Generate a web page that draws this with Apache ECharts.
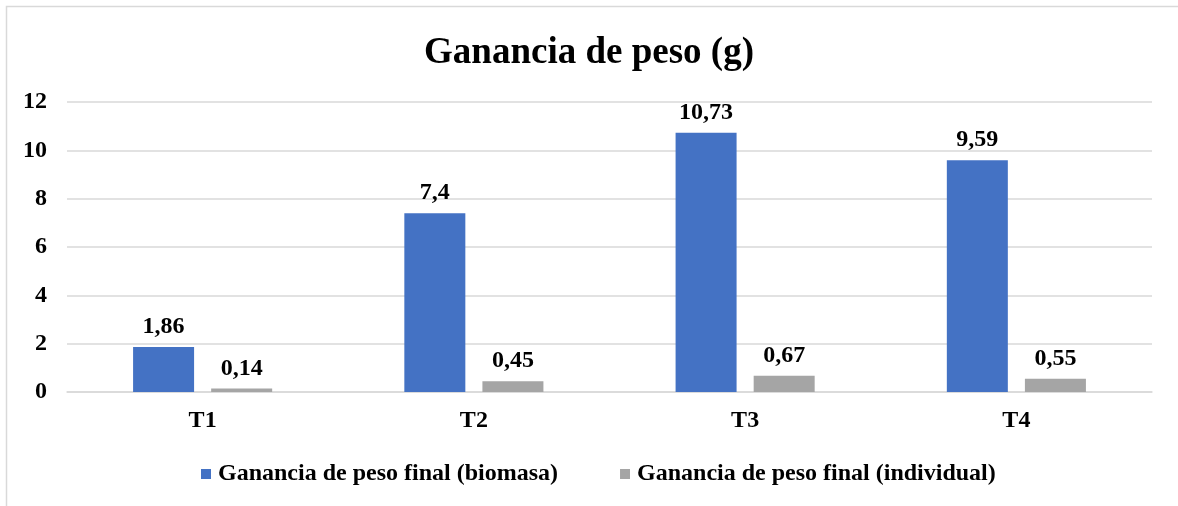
<!DOCTYPE html>
<html>
<head>
<meta charset="utf-8">
<script src="https://cdn.jsdelivr.net/npm/echarts@6/dist/echarts.min.js"></script>
<style>
  html, body { margin: 0; padding: 0; background: #fff; }
  #chart { width: 1178px; height: 506px; }
</style>
</head>
<body>
<div id="chart"></div>
<script>
// datos
const categorias = ['T1', 'T2', 'T3', 'T4'];
const biomasa = [1.86, 7.4, 10.73, 9.59];
const individual = [0.14, 0.45, 0.67, 0.55];
const nombres = ['Ganancia de peso final (biomasa)', 'Ganancia de peso final (individual)'];

const fuente = '"Liberation Serif", "Times New Roman", serif';
const coma = p => String(p.value).replace('.', ',');

const myChart = echarts.init(document.getElementById('chart'));

const etiqueta = {
  show: true,
  position: 'top',
  distance: 8,
  formatter: coma,
  color: '#000',
  fontFamily: fuente,
  fontWeight: 'bold',
  fontSize: 24
};

const option = {
  animation: false,
  textStyle: { fontFamily: fuente },
  graphic: [{
    type: 'rect',
    shape: { x: 6.5, y: 6.5, width: 1300, height: 700 },
    style: { fill: 'none', stroke: '#d9d9d9', lineWidth: 1.5 },
    silent: true
  }],
  title: {
    text: 'Ganancia de peso (g)',
    left: 'center',
    top: 30,
    textStyle: {
      fontFamily: fuente,
      fontWeight: 'bold',
      fontSize: 37,
      color: '#000'
    }
  },
  legend: {
    data: nombres,
    top: 457,
    left: 196,
    itemWidth: 10,
    itemHeight: 10,
    itemGap: 62,
    icon: 'rect',
    textStyle: {
      fontFamily: fuente,
      fontWeight: 'bold',
      fontSize: 24,
      color: '#000',
      padding: [0, 0, 0, 2]
    }
  },
  grid: {
    left: 67,
    right: 26,
    top: 102,
    bottom: 114,
    containLabel: false
  },
  xAxis: {
    type: 'category',
    data: categorias,
    axisTick: { show: false },
    axisLine: { lineStyle: { color: '#d9d9d9', width: 1.5 } },
    axisLabel: {
      margin: 17,
      color: '#000',
      fontFamily: fuente,
      fontWeight: 'bold',
      fontSize: 24
    }
  },
  yAxis: {
    type: 'value',
    min: 0,
    max: 12,
    interval: 2,
    axisLine: { show: false },
    axisTick: { show: false },
    splitLine: { lineStyle: { color: '#d9d9d9', width: 1.5 } },
    axisLabel: {
      margin: 20,
      color: '#000',
      fontFamily: fuente,
      fontWeight: 'bold',
      fontSize: 24
    }
  },
  series: [
    {
      name: nombres[0],
      type: 'bar',
      data: biomasa,
      barWidth: 61,
      barGap: '28%',
      itemStyle: { color: '#4472c4' },
      label: etiqueta
    },
    {
      name: nombres[1],
      type: 'bar',
      data: individual,
      barWidth: 61,
      itemStyle: { color: '#a5a5a5' },
      label: etiqueta
    }
  ]
};

myChart.setOption(option);
</script>
</body>
</html>
